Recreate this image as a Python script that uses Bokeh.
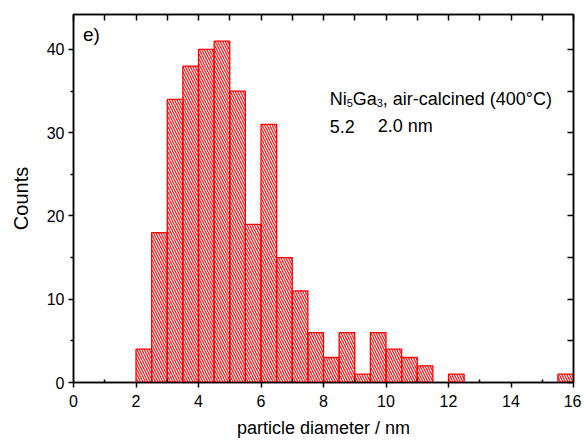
from bokeh.plotting import figure
from bokeh.models import Range1d, LinearAxis, FixedTicker, Label
from bokeh.embed import file_html
from bokeh.resources import INLINE

# ---- data ----
bin_left = [2.0, 2.5, 3.0, 3.5, 4.0, 4.5, 5.0, 5.5, 6.0, 6.5, 7.0, 7.5, 8.0, 8.5,
            9.0, 9.5, 10.0, 10.5, 11.0, 11.5, 12.0, 12.5, 13.0, 13.5, 14.0, 14.5,
            15.0, 15.5]
counts = [4, 18, 34, 38, 40, 41, 35, 19, 31, 15, 11, 6, 3, 6,
          1, 6, 4, 3, 2, 0, 1, 0, 0, 0, 0, 0,
          0, 1]
bin_width = 0.5
x_ticks = [0, 2, 4, 6, 8, 10, 12, 14, 16]
x_minor = [1, 3, 5, 7, 9, 11, 13, 15]
y_ticks = [0, 10, 20, 30, 40]
y_minor = [5, 15, 25, 35]
top_ticks = list(range(0, 17))
right_ticks = [0, 5, 10, 15, 20, 25, 30, 35, 40]
panel_label = "e)"
title_parts = ["Ni", "5", "Ga", "3", ", air-calcined (400°C)"]
mean_text = "5.2"
sd_text = "2.0 nm"
x_label = "particle diameter / nm"
y_label = "Counts"

FONT = "Liberation Sans"

L = [b for b, c in zip(bin_left, counts) if c > 0]
R = [b + bin_width for b, c in zip(bin_left, counts) if c > 0]
T = [c for c in counts if c > 0]

p = figure(frame_width=500, frame_height=368,
           x_range=Range1d(0, 16), y_range=Range1d(0, 44.2),
           output_backend="svg", toolbar_location=None,
           min_border_left=73, min_border_right=8,
           min_border_top=14, min_border_bottom=52)
p.background_fill_color = "white"
p.border_fill_color = "white"
p.xgrid.visible = False
p.ygrid.visible = False
p.outline_line_color = "black"
p.outline_line_width = 1.5

p.quad(left=L, right=R, top=T, bottom=0,
       fill_color=None, line_color="#ff0000", line_width=1.3,
       hatch_pattern="left_diagonal_line", hatch_color="#ff0000",
       hatch_scale=5, hatch_weight=1.1)

# bottom axis
xa = p.xaxis[0]
xa.ticker = FixedTicker(ticks=x_ticks, minor_ticks=x_minor)
xa.axis_label = x_label
xa.axis_label_text_font = FONT
xa.axis_label_text_font_size = "18px"
xa.axis_label_text_font_style = "normal"
xa.axis_label_text_color = "black"
xa.axis_label_standoff = 8
xa.major_label_text_font = FONT
xa.major_label_text_font_size = "16px"
xa.major_label_text_color = "black"
xa.major_label_standoff = 7
xa.major_tick_out = 5
xa.major_tick_in = 0
xa.minor_tick_in = 3
xa.minor_tick_out = 0
xa.axis_line_width = 1.5
xa.major_tick_line_width = 1.5
xa.minor_tick_line_width = 1.5

# left axis
ya = p.yaxis[0]
ya.ticker = FixedTicker(ticks=y_ticks, minor_ticks=y_minor)
ya.axis_label = y_label
ya.axis_label_text_font = FONT
ya.axis_label_text_font_size = "20px"
ya.axis_label_text_font_style = "normal"
ya.axis_label_text_color = "black"
ya.axis_label_standoff = 12
ya.major_label_text_font = FONT
ya.major_label_text_font_size = "16px"
ya.major_label_text_color = "black"
ya.major_label_standoff = 4
ya.major_tick_out = 5
ya.major_tick_in = 0
ya.minor_tick_out = 3
ya.minor_tick_in = 0
ya.axis_line_width = 1.5
ya.major_tick_line_width = 1.5
ya.minor_tick_line_width = 1.5

# top axis (ticks only, labels not painted)
top_ax = LinearAxis(ticker=FixedTicker(ticks=top_ticks, minor_ticks=[]),
                    major_label_text_font_size="1px", major_label_text_color=None,
                    major_label_standoff=0,
                    major_tick_in=6, major_tick_out=0,
                    minor_tick_in=0, minor_tick_out=0,
                    axis_line_width=1.5, major_tick_line_width=1.5)
p.add_layout(top_ax, "above")

# right axis (ticks only, labels not painted)
right_ax = LinearAxis(ticker=FixedTicker(ticks=right_ticks, minor_ticks=[]),
                      major_label_text_font_size="1px", major_label_text_color=None,
                      major_label_standoff=0,
                      major_tick_in=6, major_tick_out=0,
                      minor_tick_in=0, minor_tick_out=0,
                      axis_line_width=1.5, major_tick_line_width=1.5)
p.add_layout(right_ax, "right")

# panel label
p.add_layout(Label(x=0.3, y=41.8, text=panel_label, text_font=FONT,
                   text_font_size="19px", text_color="black",
                   text_baseline="alphabetic"))

# annotation
x0, y1, y2 = 8.2, 34.0, 30.8
offsets = [0, 17, 23, 47, 53]
sizes = ["18px", "11px", "18px", "11px", "18px"]
dys = [0, -4, 0, -4, 0]
for txt, off, sz, dy in zip(title_parts, offsets, sizes, dys):
    p.add_layout(Label(x=x0, y=y1, x_offset=off, y_offset=dy, text=txt,
                       text_font=FONT, text_font_size=sz, text_color="black",
                       text_baseline="alphabetic"))
p.add_layout(Label(x=x0, y=y2, text=mean_text, text_font=FONT,
                   text_font_size="18px", text_color="black",
                   text_baseline="alphabetic"))
p.add_layout(Label(x=x0, y=y2, x_offset=48, text=sd_text, text_font=FONT,
                   text_font_size="18px", text_color="black",
                   text_baseline="alphabetic"))

open("out.html", "w").write(file_html(p, INLINE))
